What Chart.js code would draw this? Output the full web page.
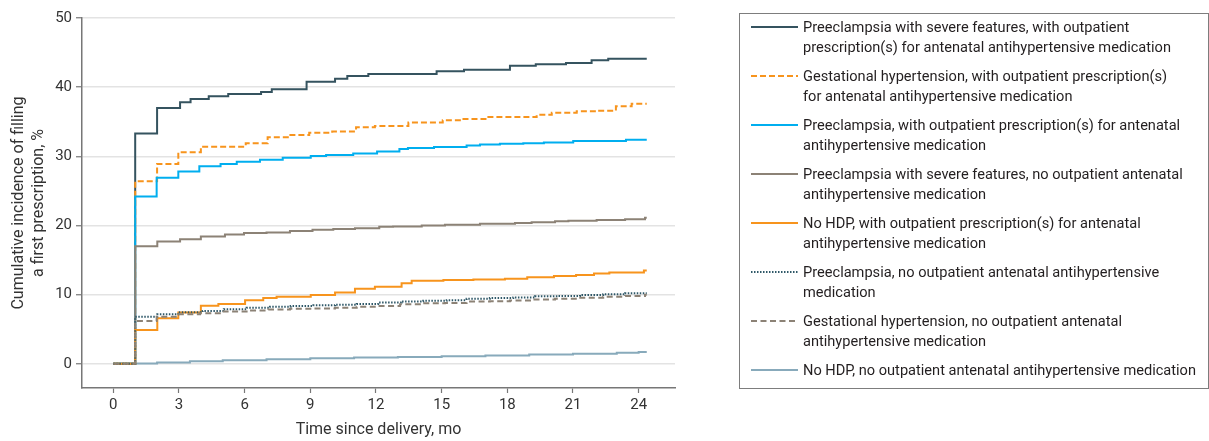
<!DOCTYPE html>
<html>
<head>
<meta charset="utf-8">
<script src="https://cdn.jsdelivr.net/npm/chart.js@4.4.1/dist/chart.umd.min.js"></script>
<style>
  html, body { margin: 0; padding: 0; background: #fff; }
  #wrap { position: relative; width: 1209px; height: 441px; overflow: hidden; }
  #c { position: absolute; left: 0; top: 0; }
  #legend {
    position: absolute; left: 739px; top: 13px; width: 470px; height: 376px;
    box-sizing: border-box; border: 1.5px solid #7d7d7d;
    font-family: Roboto, "Open Sans", sans-serif; font-size: 14.6px; color: #231f20;
  }
  .entry { position: absolute; left: 0; width: 100%; line-height: 20px; }
  .entry svg { position: absolute; left: 11px; top: 8px; }
  .entry .txt { position: absolute; left: 63px; top: 0; white-space: nowrap; }
</style>
</head>
<body>
<div id="wrap">
  <canvas id="c" width="1209" height="441"></canvas>
  <div id="legend"></div>
</div>
<script>
// ---- Data ----
const xTickValues = [0, 3, 6, 9, 12, 15, 18, 21, 24];
const yTickValues = [0, 10, 20, 30, 40, 50];

const seriesLabels = [
  "Preeclampsia with severe features, with outpatient|prescription(s) for antenatal antihypertensive medication",
  "Gestational hypertension, with outpatient prescription(s)|for antenatal antihypertensive medication",
  "Preeclampsia, with outpatient prescription(s) for antenatal|antihypertensive medication",
  "Preeclampsia with severe features, no outpatient antenatal|antihypertensive medication",
  "No HDP, with outpatient prescription(s) for antenatal|antihypertensive medication",
  "Preeclampsia, no outpatient antenatal antihypertensive|medication",
  "Gestational hypertension, no outpatient antenatal|antihypertensive medication",
  "No HDP, no outpatient antenatal antihypertensive medication"
];

const severeRxTimes  = [0, 1, 2, 3.05, 3.53, 4.36, 5.25, 6.75, 7.24, 8.83, 10.13, 10.69, 11.65, 14.77, 16.02, 18.12, 19.3, 20.68, 21.85, 22.61, 24.37];
const severeRxValues = [0, 33.3, 37.0, 37.8, 38.3, 38.7, 39.0, 39.3, 39.7, 40.8, 41.2, 41.6, 41.9, 42.3, 42.5, 43.1, 43.3, 43.5, 43.9, 44.1, 44.1];

const gestRxTimes  = [0, 1, 2, 2.97, 4.0, 6.05, 7.05, 8.04, 8.95, 10.0, 11.09, 11.95, 13.48, 15.05, 15.92, 17.06, 19.34, 20.03, 21.17, 22.08, 22.96, 23.68, 24.37];
const gestRxValues = [0, 26.4, 28.9, 30.6, 31.4, 31.9, 32.75, 33.1, 33.4, 33.6, 34.2, 34.4, 34.9, 35.2, 35.4, 35.7, 36.0, 36.3, 36.5, 36.6, 37.25, 37.6, 37.6];

const preRxTimes  = [0, 1, 1.98, 2.97, 3.93, 4.9, 5.64, 6.7, 7.74, 9.02, 9.72, 10.96, 12.05, 13.07, 13.46, 14.65, 16.14, 16.75, 17.66, 18.73, 19.67, 21.01, 23.42, 24.37];
const preRxValues = [0, 24.2, 26.9, 27.8, 28.55, 28.9, 29.2, 29.5, 29.8, 30.05, 30.2, 30.4, 30.7, 31.05, 31.2, 31.35, 31.55, 31.7, 31.8, 31.9, 32.0, 32.2, 32.4, 32.4];

const severeNoRxTimes  = [0, 1, 2.01, 3.05, 4.0, 5.1, 5.97, 7.0, 8.07, 9.1, 10.05, 11.04, 12.15, 12.78, 14.09, 15.15, 16.75, 18.35, 19.11, 20.18, 20.79, 22.08, 23.38, 24.29, 24.37];
const severeNoRxValues = [0, 17.0, 17.7, 18.0, 18.4, 18.7, 18.9, 19.0, 19.2, 19.4, 19.5, 19.6, 19.8, 19.85, 20.0, 20.1, 20.25, 20.35, 20.45, 20.6, 20.7, 20.8, 20.9, 21.1, 21.1];

const noHdpRxTimes  = [0, 1, 2.01, 2.97, 4.0, 4.8, 6.02, 6.85, 7.46, 9.02, 10.13, 11.04, 11.95, 13.17, 13.63, 15.08, 16.45, 17.89, 18.91, 20.13, 21.14, 21.96, 22.66, 24.24, 24.37];
const noHdpRxValues = [0, 4.9, 6.6, 7.4, 8.4, 8.65, 9.2, 9.5, 9.7, 9.95, 10.3, 10.85, 11.15, 11.65, 12.0, 12.1, 12.2, 12.3, 12.5, 12.7, 12.85, 13.05, 13.2, 13.5, 13.5];

const preNoRxTimes  = [0, 1, 2.01, 2.97, 4.08, 5.05, 6.09, 7.16, 8.1, 9.14, 10.13, 11.12, 12.1, 13.17, 14.16, 15.23, 16.14, 17.2, 18.27, 19.26, 20.32, 21.32, 22.38, 23.38, 24.37];
const preNoRxValues = [0, 6.8, 7.15, 7.45, 7.65, 7.9, 8.1, 8.25, 8.35, 8.45, 8.55, 8.65, 8.85, 9.0, 9.1, 9.2, 9.4, 9.5, 9.6, 9.75, 9.8, 9.95, 10.05, 10.2, 10.2];

const gestNoRxTimes  = [0, 1, 1.98, 2.97, 3.96, 4.99, 6.09, 7.08, 8.07, 9.14, 10.13, 11.12, 12.1, 13.1, 14.16, 15.15, 16.14, 17.2, 18.12, 19.11, 20.18, 21.24, 22.38, 23.38, 24.29, 24.37];
const gestNoRxValues = [0, 6.2, 6.8, 7.15, 7.3, 7.55, 7.7, 7.85, 7.95, 8.0, 8.1, 8.25, 8.35, 8.6, 8.75, 8.8, 9.0, 9.05, 9.15, 9.3, 9.4, 9.55, 9.7, 9.8, 10.0, 10.0];

const noHdpNoRxTimes  = [0, 1, 2, 3.5, 5, 7, 9, 11, 13, 15, 17, 19, 21, 23, 24, 24.37];
const noHdpNoRxValues = [0, 0.05, 0.2, 0.35, 0.5, 0.65, 0.8, 0.9, 1.0, 1.1, 1.2, 1.35, 1.45, 1.6, 1.7, 1.7];

// ---- Styles ----
const seriesColors = ['#35535f', '#f7941d', '#00aeef', '#8c8276', '#f7941d', '#2f5868', '#8c8276', '#88aabb'];
const seriesDash   = [[], [6, 3], [], [], [], [1.5, 1.5], [6, 3.5], []];
const seriesTimes  = [severeRxTimes, gestRxTimes, preRxTimes, severeNoRxTimes, noHdpRxTimes, preNoRxTimes, gestNoRxTimes, noHdpNoRxTimes];
const seriesValues = [severeRxValues, gestRxValues, preRxValues, severeNoRxValues, noHdpRxValues, preNoRxValues, gestNoRxValues, noHdpNoRxValues];

const FONT = 'Roboto, "Open Sans", sans-serif';

const datasets = seriesLabels.map((lab, i) => ({
  label: lab.replace('|', ' '),
  data: seriesTimes[i].map((t, k) => ({ x: t, y: seriesValues[i][k] })),
  borderColor: seriesColors[i],
  borderDash: seriesDash[i],
  borderWidth: 2,
  stepped: true,
  pointRadius: 0,
  fill: false,
  order: 8 - i
}));
datasets[7].order = 9;

new Chart(document.getElementById('c'), {
  type: 'line',
  data: { datasets },
  options: {
    responsive: false,
    animation: false,
    layout: { padding: { top: 18, right: 534, left: 0, bottom: 0 } },
    plugins: { legend: { display: false }, tooltip: { enabled: false } },
    scales: {
      x: {
        type: 'linear',
        min: -1.43,
        max: 25.66,
        afterBuildTicks: s => { s.ticks = xTickValues.map(v => ({ value: v })); },
        afterFit: s => { s.height = 53; },
        grid: { drawOnChartArea: false, drawTicks: true, tickLength: 5, tickColor: '#777', tickWidth: 1.2 },
        border: { display: true, color: '#777', width: 1.5 },
        ticks: { color: '#333', padding: 3, font: { family: FONT, size: 15 }, maxRotation: 0, autoSkip: false },
        title: { display: true, text: 'Time since delivery, mo', color: '#333',
                 font: { family: FONT, size: 16, lineHeight: '19px' }, padding: { top: 0, bottom: 1.5 } }
      },
      y: {
        min: -3.5,
        max: 50,
        afterBuildTicks: s => { s.ticks = yTickValues.map(v => ({ value: v })); },
        afterFit: s => { s.width = 82; },
        grid: { color: '#e3e3e3', lineWidth: 1.5, drawTicks: true, tickLength: 6, tickColor: '#777', tickWidth: 1.2 },
        border: { display: true, color: '#777', width: 1.5 },
        ticks: { color: '#333', padding: 4, font: { family: FONT, size: 15 } },
        title: { display: true, text: ['Cumulative incidence of filling', 'a first prescription, %'], color: '#333',
                 font: { family: FONT, size: 16, lineHeight: '20px' }, padding: { top: 9, bottom: 0 } }
      }
    }
  }
});

// ---- HTML legend ----
const legend = document.getElementById('legend');
const legendTop = 15.5 - 13;
seriesLabels.forEach((lab, i) => {
  const div = document.createElement('div');
  div.className = 'entry';
  div.style.top = (legendTop + i * 49) + 'px';
  const dash = seriesDash[i].length ? `stroke-dasharray="${seriesDash[i].join(' ')}"` : '';
  div.innerHTML = `<svg width="47" height="4"><line x1="0" y1="2" x2="47" y2="2" stroke="${seriesColors[i]}" stroke-width="2" ${dash}/></svg>` +
                  `<div class="txt">${lab.split('|').join('<br>')}</div>`;
  legend.appendChild(div);
});
</script>
</body>
</html>
